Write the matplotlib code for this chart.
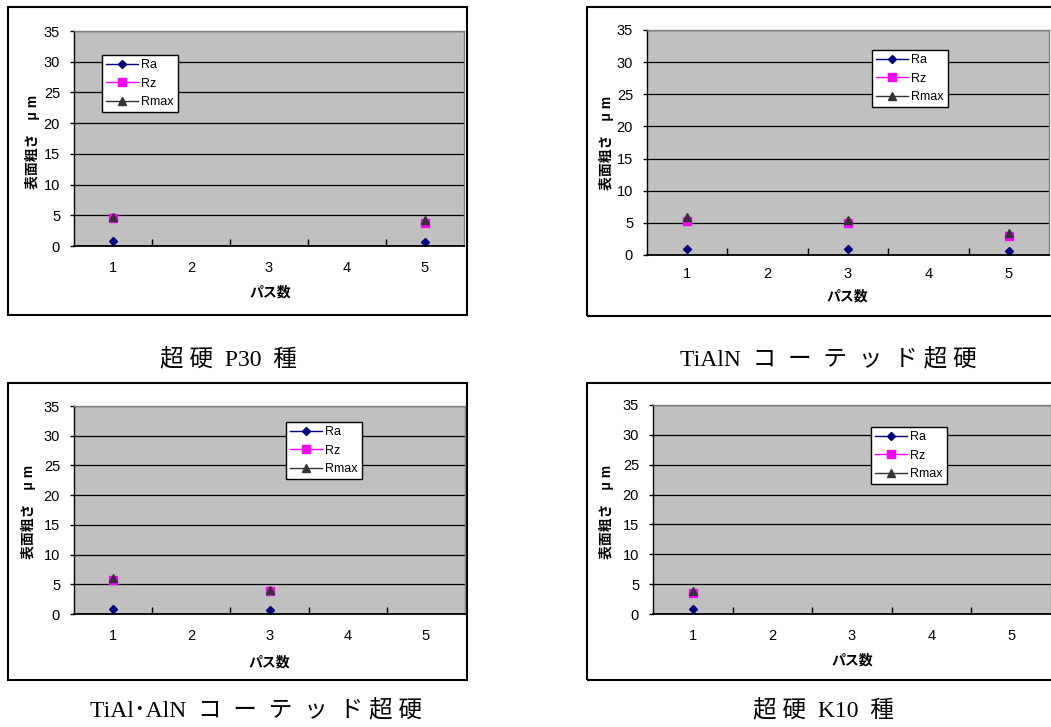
import numpy as np
import matplotlib
matplotlib.use('Agg')
import matplotlib.pyplot as plt
from matplotlib.patches import Rectangle

plt.rcParams['font.family'] = ['Liberation Sans', 'Noto Sans CJK JP']

W, H = 1051, 727
nan = np.nan

passes = [1, 2, 3, 4, 5]
series_names = ['Ra', 'Rz', 'Rmax']

# surface roughness (um) after each pass, missing passes left empty
p30_ra = [0.8, nan, nan, nan, 0.7]
p30_rz = [4.6, nan, nan, nan, 3.8]
p30_rmax = [4.8, nan, nan, nan, 4.2]

tialn_ra = [1.0, nan, 1.0, nan, 0.6]
tialn_rz = [5.3, nan, 5.0, nan, 3.0]
tialn_rmax = [5.9, nan, 5.4, nan, 3.4]

tialaln_ra = [0.8, nan, 0.6, nan, nan]
tialaln_rz = [5.8, nan, 3.9, nan, nan]
tialaln_rmax = [6.1, nan, 4.0, nan, nan]

k10_ra = [0.8, nan, nan, nan, nan]
k10_rz = [3.5, nan, nan, nan, nan]
k10_rmax = [3.8, nan, nan, nan, nan]

captions = ['超 硬  P30  種', 'TiAlN  コ  ー  テ  ッ  ド 超 硬',
            'TiAl･AlN  コ  ー  テ  ッ  ド 超 硬', '超 硬  K10  種']

y_ticks = [0, 5, 10, 15, 20, 25, 30, 35]
y_label = '表面粗さ　μ m'
x_label = 'パス数'

styles = [
    dict(color='#000080', marker='D', markersize=4.5),
    dict(color='#FF00FF', marker='s', markersize=6),
    dict(color='#333333', marker='^', markersize=6),
]

# pixel layout: chart area box, plot area, legend corner, label spots, caption spot
layout = [
    dict(box=(8, 7, 467, 315), plot=(74, 31, 464, 246), legend=(102, 55),
         ylab=(32, 142), xlab=(270, 293), cap=(228, 360), xpad=11),
    dict(box=(587, 7, 1065, 316), plot=(647, 30, 1049, 255), legend=(872, 50),
         ylab=(606, 143), xlab=(847, 297), cap=(828, 360), xpad=9),
    dict(box=(8, 383, 467, 680), plot=(74, 406, 465, 614), legend=(286, 422),
         ylab=(28, 512), xlab=(269, 662), cap=(256, 711), xpad=11),
    dict(box=(587, 383, 1065, 680), plot=(653, 405, 1051, 614), legend=(871, 427),
         ylab=(607, 512), xlab=(852, 660), cap=(823, 711), xpad=11),
]

data = [
    (p30_ra, p30_rz, p30_rmax),
    (tialn_ra, tialn_rz, tialn_rmax),
    (tialaln_ra, tialaln_rz, tialaln_rmax),
    (k10_ra, k10_rz, k10_rmax),
]


def fx(x):
    return x / W


def fy(y):
    return 1 - y / H


fig = plt.figure(figsize=(W / 100, H / 100), dpi=100)

for spec, values, caption in zip(layout, data, captions):
    bx0, by0, bx1, by1 = spec['box']
    fig.add_artist(Rectangle((fx(bx0), fy(by1)), fx(bx1 - bx0), (by1 - by0) / H,
                             transform=fig.transFigure, fill=False,
                             edgecolor='black', linewidth=1.5, zorder=-1))

    x0, y0, x1, y1 = spec['plot']
    ax = fig.add_axes([fx(x0), fy(y1), fx(x1 - x0), (y1 - y0) / H])
    ax.set_facecolor('#C0C0C0')

    for name, vals, st in zip(series_names, values, styles):
        ax.plot(passes, vals, label=name, linewidth=1,
                markeredgecolor=st['color'], clip_on=False, **st)

    ax.set_xlim(0.5, 5.5)
    ax.set_ylim(0, 35)
    ax.set_yticks(y_ticks)
    ax.set_xticks(passes)
    ax.set_xticks([1.5, 2.5, 3.5, 4.5], minor=True)
    ax.yaxis.grid(True, color='black', linewidth=0.9)
    ax.tick_params(axis='y', direction='out', length=3, width=1, pad=7,
                   labelsize=10.5)
    ax.tick_params(axis='x', which='major', length=0, pad=spec['xpad'],
                   labelsize=10.5)
    ax.tick_params(axis='x', which='minor', direction='in', length=5, width=1)

    for side in ['top', 'right']:
        ax.spines[side].set_color('#808080')
        ax.spines[side].set_linewidth(1)
    ax.spines['left'].set_linewidth(1)
    ax.spines['bottom'].set_linewidth(1.3)

    lx, ly = spec['legend']
    leg = ax.legend(loc='upper left', bbox_to_anchor=(fx(lx), fy(ly)),
                    bbox_transform=fig.transFigure, fontsize=9,
                    fancybox=False, framealpha=1, edgecolor='black',
                    handlelength=2.5, handletextpad=0.25, labelspacing=0.5,
                    borderpad=0.35, borderaxespad=0)
    leg.get_frame().set_linewidth(1)

    fig.text(fx(spec['ylab'][0]), fy(spec['ylab'][1]), y_label, rotation=90,
             ha='center', va='center', fontsize=10, fontweight='bold')
    fig.text(fx(spec['xlab'][0]), fy(spec['xlab'][1]), x_label,
             ha='center', va='center', fontsize=10, fontweight='bold')
    fig.text(fx(spec['cap'][0]), fy(spec['cap'][1]), caption,
             ha='center', va='center', fontsize=17,
             family=['Liberation Serif', 'Noto Sans CJK JP'])

fig.savefig('out.png', dpi=100, facecolor='white')
